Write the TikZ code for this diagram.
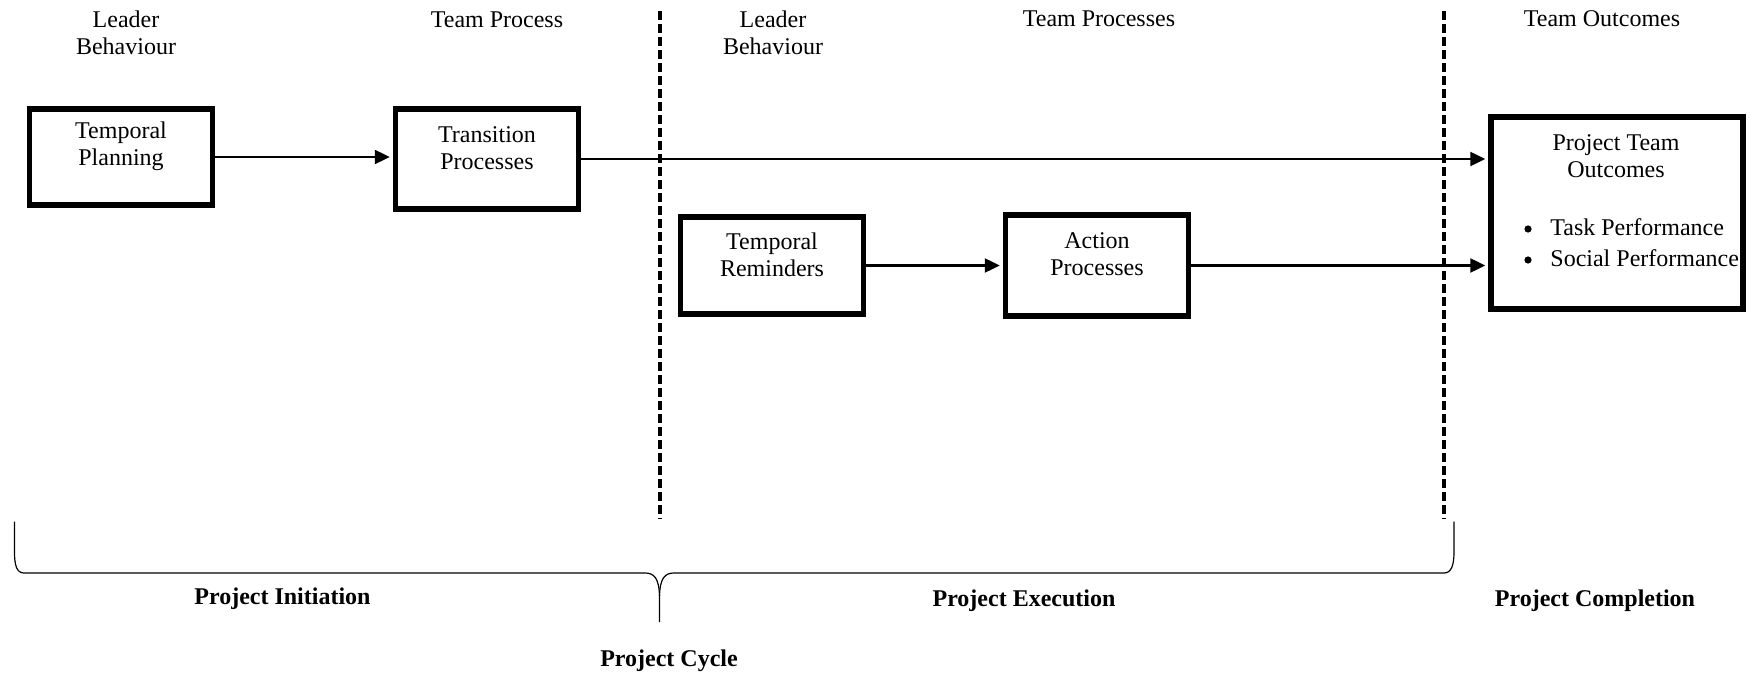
\documentclass[tikz,border=0pt]{standalone}
\usepackage{fontspec}
\setmainfont{Liberation Serif}
\usetikzlibrary{arrows.meta,calc}
\begin{document}
\begin{tikzpicture}[x=0.5pt,y=-0.5pt,
  font=\fontsize{12}{13.4}\selectfont,
  box/.style={draw,line width=2.9pt,inner sep=0pt},
  txt/.style={align=center,inner sep=0pt},
  bold/.style={font=\fontsize{12}{13.4}\selectfont\bfseries,inner sep=0pt},
  conn/.style={line width=1.1pt,-{Triangle[length=7.5pt,width=7pt]},shorten >=1.4pt},
  dashline/.style={line width=1.7pt,dash pattern=on 4.5pt off 2pt},
  brace/.style={line width=0.6pt},
  dot/.style={circle,fill,inner sep=0pt,minimum size=3.6pt}]
\useasboundingbox (0,0) rectangle (1751,674);
% headers
\node[txt] (lb1) at (126,33) {Leader\\Behaviour};
\node[txt] (tph) at (497,20) {Team Process};
\node[txt] (lb2) at (773,33) {Leader\\Behaviour};
\node[txt] (tpsh) at (1099,19) {Team Processes};
\node[txt] (toh) at (1602,19) {Team Outcomes};
% dashed separators
\coordinate (d1t) at (660,11); \coordinate (d1b) at (660,519);
\coordinate (d2t) at (1444,11); \coordinate (d2b) at (1444,519);
\draw[dashline] (d1t) -- (d1b);
\draw[dashline] (d2t) -- (d2b);
% boxes
\node[box,minimum width=91.5pt,minimum height=48pt] (tp) at (121,157) {};
\node[txt] (tpt) at ([yshift=5.5pt]tp.center) {Temporal\\Planning};
\node[box,minimum width=91.5pt,minimum height=50pt] (trans) at (487,159) {};
\node[txt] (transt) at ([yshift=5.5pt]trans.center) {Transition\\Processes};
\node[box,minimum width=91.5pt,minimum height=48.5pt] (tr) at (772,265.5) {};
\node[txt] (trt) at ([yshift=5.5pt]tr.center) {Temporal\\Reminders};
\node[box,minimum width=91.5pt,minimum height=50.5pt] (act) at (1097,265.5) {};
\node[txt] (actt) at ([yshift=5.5pt]act.center) {Action\\Processes};
\node[box,minimum width=126pt,minimum height=96pt] (out) at (1617,213) {};
\node[txt] (outt) at (1616,156.5) {Project Team\\Outcomes};
\node[dot] (b1) at (1528,229) {};
\node[dot] (b2) at (1528,260) {};
\node[inner sep=0pt,anchor=west] (i1) at (1550,227) {Task Performance};
\node[inner sep=0pt,anchor=west] (i2) at (1550,258) {Social Performance};
% connectors
\draw[conn] (tp.east) -- (tp.east -| trans.west);
\draw[conn] (trans.east) -- (trans.east -| out.west);
\draw[conn] (tr.east) -- (tr.east -| act.west);
\draw[conn] (act.east) -- (act.east -| out.west);
% brace
\draw[brace] (14.5,521.5) -- (14.5,552) .. controls (14.5,566) and (17,573) .. (24,573)
  -- (645,573) .. controls (654,573) and (659,578) .. (659.5,596) -- (659.5,622);
\draw[brace] (659.5,596) .. controls (660,578) and (665,573) .. (674,573)
  -- (1444,573) .. controls (1451,573) and (1454,566) .. (1454,552) -- (1454,521.5);
% phase labels
\node[bold] (pi) at (282.5,599) {Project Initiation};
\node[bold] (pe) at (1024,601) {Project Execution};
\node[bold] (pc) at (1595,601) {Project Completion};
\node[bold] (pcy) at (669,660.5) {Project Cycle};
\end{tikzpicture}
\end{document}
